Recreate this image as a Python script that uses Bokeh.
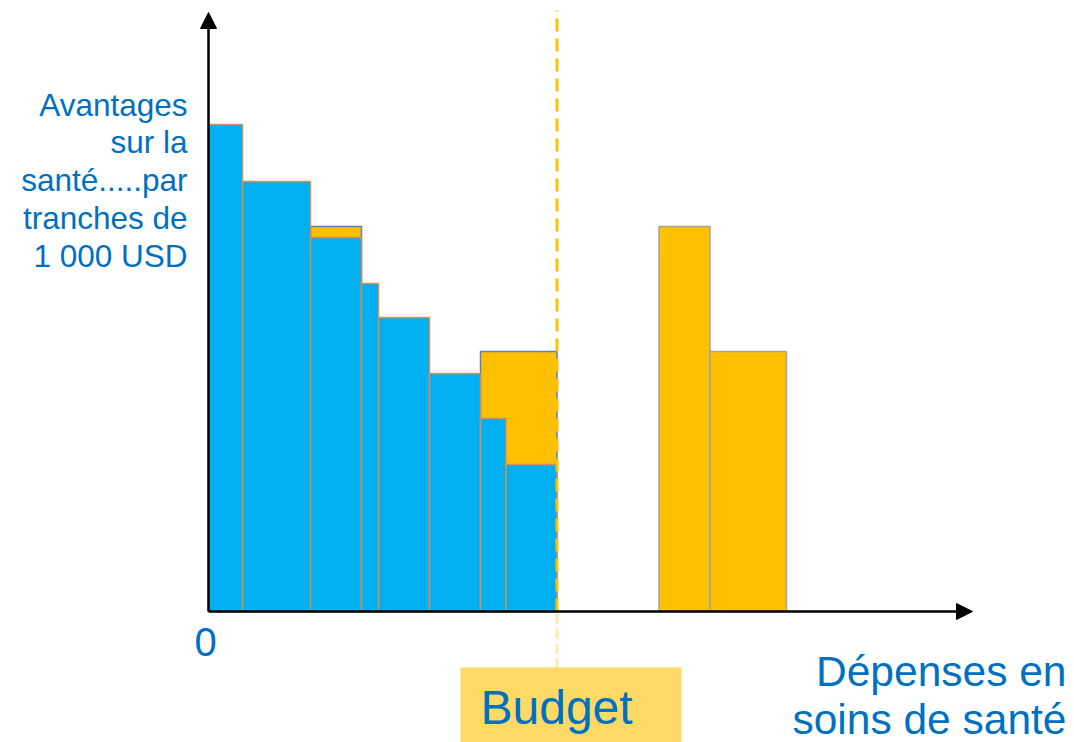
import numpy as np
from bokeh.plotting import figure
from bokeh.models import Range1d, Arrow, NormalHead
from bokeh.core.properties import value
from bokeh.embed import file_html
from bokeh.resources import INLINE

# ---- data (cost units on x, health benefit per 1 000 USD on y) ----
blue_cost = [2, 4, 3, 1, 3, 3, 1.5, 3]
blue_benefit = [48.7, 43.0, 37.4, 32.8, 29.4, 23.8, 19.3, 14.7]

yellow_start = [6, 16, 26.5, 29.5]
yellow_cost = [3, 4.5, 3, 4.5]
yellow_benefit = [38.5, 26.0, 38.5, 26.0]
yellow_edge = ["#5B7FC4", "#5B7FC4", "#A5A5A5", "#A5A5A5"]

budget = 20.5
y_label_lines = ["Avantages", "sur la", "santé.....par", "tranches de", "1 000 USD"]
x_label_lines = ["Dépenses en", "soins de santé"]
origin_label = "0"
budget_label = "Budget"

BLUE = "#00B0F0"
YELLOW = "#FFC000"
TXT = "#0070C0"
FONT = value("Liberation Sans")

# pixel scale helpers: 1 x unit = 17 px, 1 y unit = 10 px
W, H = 1074, 742
x0_px, y0_px = 208, 611
xs, ys = 17.0, 10.0

p = figure(width=W, height=H, output_backend="svg", toolbar_location=None,
           x_range=Range1d(-x0_px / xs, (W - x0_px) / xs),
           y_range=Range1d(-(H - y0_px) / ys, y0_px / ys),
           x_axis_location=None, y_axis_location=None, min_border=0)
p.grid.visible = False
p.outline_line_color = None
p.background_fill_color = "white"

# yellow bars
yl = np.array(yellow_start, dtype=float)
yr = yl + np.array(yellow_cost)
p.quad(left=yl, right=yr, bottom=0, top=yellow_benefit, fill_color=YELLOW,
       line_color=yellow_edge, line_width=1.5)

# blue bars
br = np.cumsum(blue_cost)
bl = br - np.array(blue_cost)
p.quad(left=bl, right=br, bottom=0, top=blue_benefit, fill_color=BLUE,
       line_color="#E8864A", line_width=1.5, line_alpha=0.9)

# budget dashed line
p.segment(x0=[budget], y0=[0], x1=[budget], y1=[(y0_px - 10) / ys],
          line_color=YELLOW, line_width=3, line_dash="13 7")
p.segment(x0=[budget], y0=[-(668 - y0_px) / ys], x1=[budget], y1=[0],
          line_color=YELLOW, line_width=3, line_dash="10 5", line_alpha=0.35)

# axes with arrows
p.add_layout(Arrow(x_start=0, y_start=0, x_end=0, y_end=(y0_px - 12) / ys,
                   line_width=2.5, line_color="black",
                   end=NormalHead(size=16, fill_color="black", line_color="black")))
p.add_layout(Arrow(x_start=0, y_start=0, x_end=(972 - x0_px) / xs, y_end=0,
                   line_width=2.5, line_color="black",
                   end=NormalHead(size=16, fill_color="black", line_color="black")))

# budget box
p.quad(left=[(460 - x0_px) / xs], right=[(681 - x0_px) / xs],
       top=[-(667 - y0_px) / ys], bottom=[-(H - y0_px) / ys],
       fill_color="#FDD966", line_color=None)
p.text(x=[(480 - x0_px) / xs], y=[-(707 - y0_px) / ys], text=[budget_label],
       text_font=FONT, text_font_size="48px", text_color=TXT,
       text_align="left", text_baseline="middle")

# origin label
p.text(x=[(205 - x0_px) / xs], y=[-(641 - y0_px) / ys], text=[origin_label],
       text_font=FONT, text_font_size="40px", text_color=TXT,
       text_align="center", text_baseline="middle")

# y label
ycent = [104, 141, 179, 217, 255]
p.text(x=[(187 - x0_px) / xs] * len(y_label_lines),
       y=[(y0_px - c) / ys for c in ycent], text=y_label_lines,
       text_font=FONT, text_font_size="31.5px", text_color=TXT,
       text_align="right", text_baseline="middle")

# x label
xcent = [671, 719]
p.text(x=[(1066 - x0_px) / xs] * len(x_label_lines),
       y=[-(c - y0_px) / ys for c in xcent], text=x_label_lines,
       text_font=FONT, text_font_size="42.5px", text_color=TXT,
       text_align="right", text_baseline="middle")

open("out.html", "w").write(file_html(p, INLINE))
